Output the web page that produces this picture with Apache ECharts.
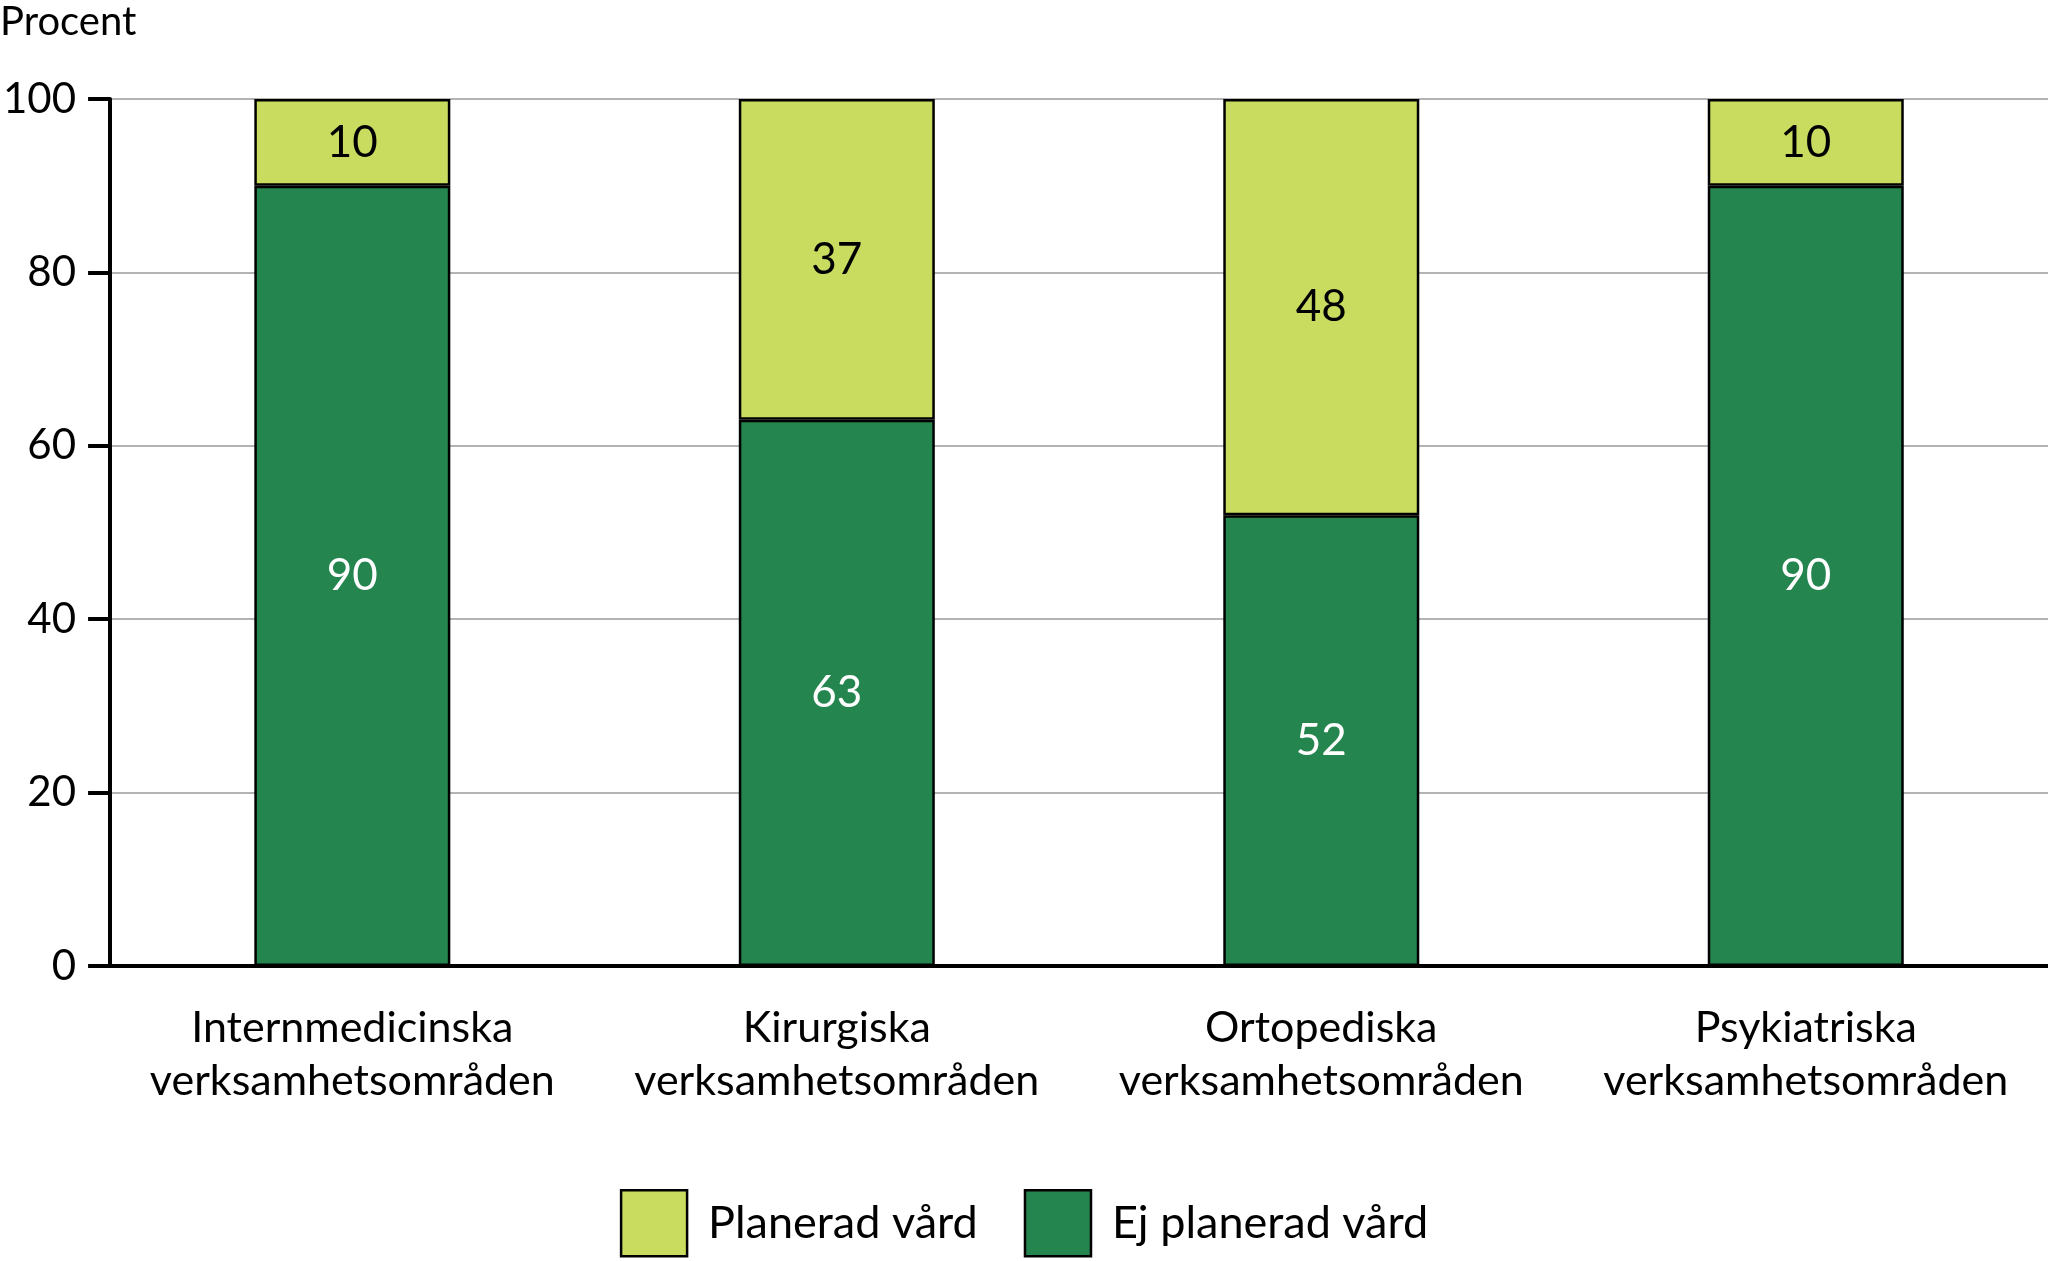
<!DOCTYPE html>
<html>
<head>
<meta charset="utf-8">
<script src="https://cdn.jsdelivr.net/npm/echarts@6/dist/echarts.min.js"></script>
<style>
  html, body { margin: 0; padding: 0; background: #fff; }
  #main { width: 2048px; height: 1261px; }
</style>
</head>
<body>
<div id="main"></div>
<script>
const categories = [
  'Internmedicinska\nverksamhetsområden',
  'Kirurgiska\nverksamhetsområden',
  'Ortopediska\nverksamhetsområden',
  'Psykiatriska\nverksamhetsområden'
];
const planerad = [10, 37, 48, 10];
const ejPlanerad = [90, 63, 52, 90];

const font = 'Lato';

const chart = echarts.init(document.getElementById('main'));

const option = {
  animation: false,
  textStyle: { fontFamily: font },
  title: {
    text: 'Procent',
    left: 0,
    top: 2,
    padding: 0,
    textStyle: { fontFamily: font, fontSize: 40, fontWeight: 'normal', color: '#000' }
  },
  legend: {
    data: ['Planerad vård', 'Ej planerad vård'],
    left: 'center',
    top: 1189,
    padding: 0,
    icon: 'rect',
    itemWidth: 66,
    itemHeight: 66,
    itemGap: 46,
    itemStyle: { borderColor: '#000', borderWidth: 2.5 },
    textStyle: { fontFamily: font, fontSize: 45, color: '#000', padding: [0, 0, 0, 16] }
  },
  grid: { left: 110, right: 0, top: 99, bottom: 295 },
  xAxis: {
    type: 'category',
    data: categories,
    axisLine: { lineStyle: { color: '#000', width: 4 } },
    axisTick: { show: false },
    axisLabel: {
      interval: 0,
      fontFamily: font, fontSize: 43, color: '#000',
      lineHeight: 53, margin: 36
    }
  },
  yAxis: {
    type: 'value',
    min: 0,
    max: 100,
    interval: 20,
    axisLine: { show: true, lineStyle: { color: '#000', width: 4 } },
    axisTick: { show: true, length: 22, lineStyle: { color: '#000', width: 4 } },
    axisLabel: { fontFamily: font, fontSize: 42, color: '#000', margin: 34 },
    splitLine: { lineStyle: { color: '#9a9a9a', width: 1.5 } }
  },
  series: [
    {
      name: 'Ej planerad vård',
      type: 'bar',
      stack: 'tot',
      data: ejPlanerad,
      barWidth: 196,
      itemStyle: { color: '#24854f', borderColor: '#000', borderWidth: 2.5 },
      label: { show: true, position: 'inside', color: '#fff', fontFamily: font, fontSize: 44 }
    },
    {
      name: 'Planerad vård',
      type: 'bar',
      stack: 'tot',
      data: planerad,
      barWidth: 196,
      itemStyle: { color: '#c9dc5f', borderColor: '#000', borderWidth: 2.5 },
      label: { show: true, position: 'inside', color: '#000', fontFamily: font, fontSize: 44 }
    }
  ]
};

chart.setOption(option);
</script>
</body>
</html>
